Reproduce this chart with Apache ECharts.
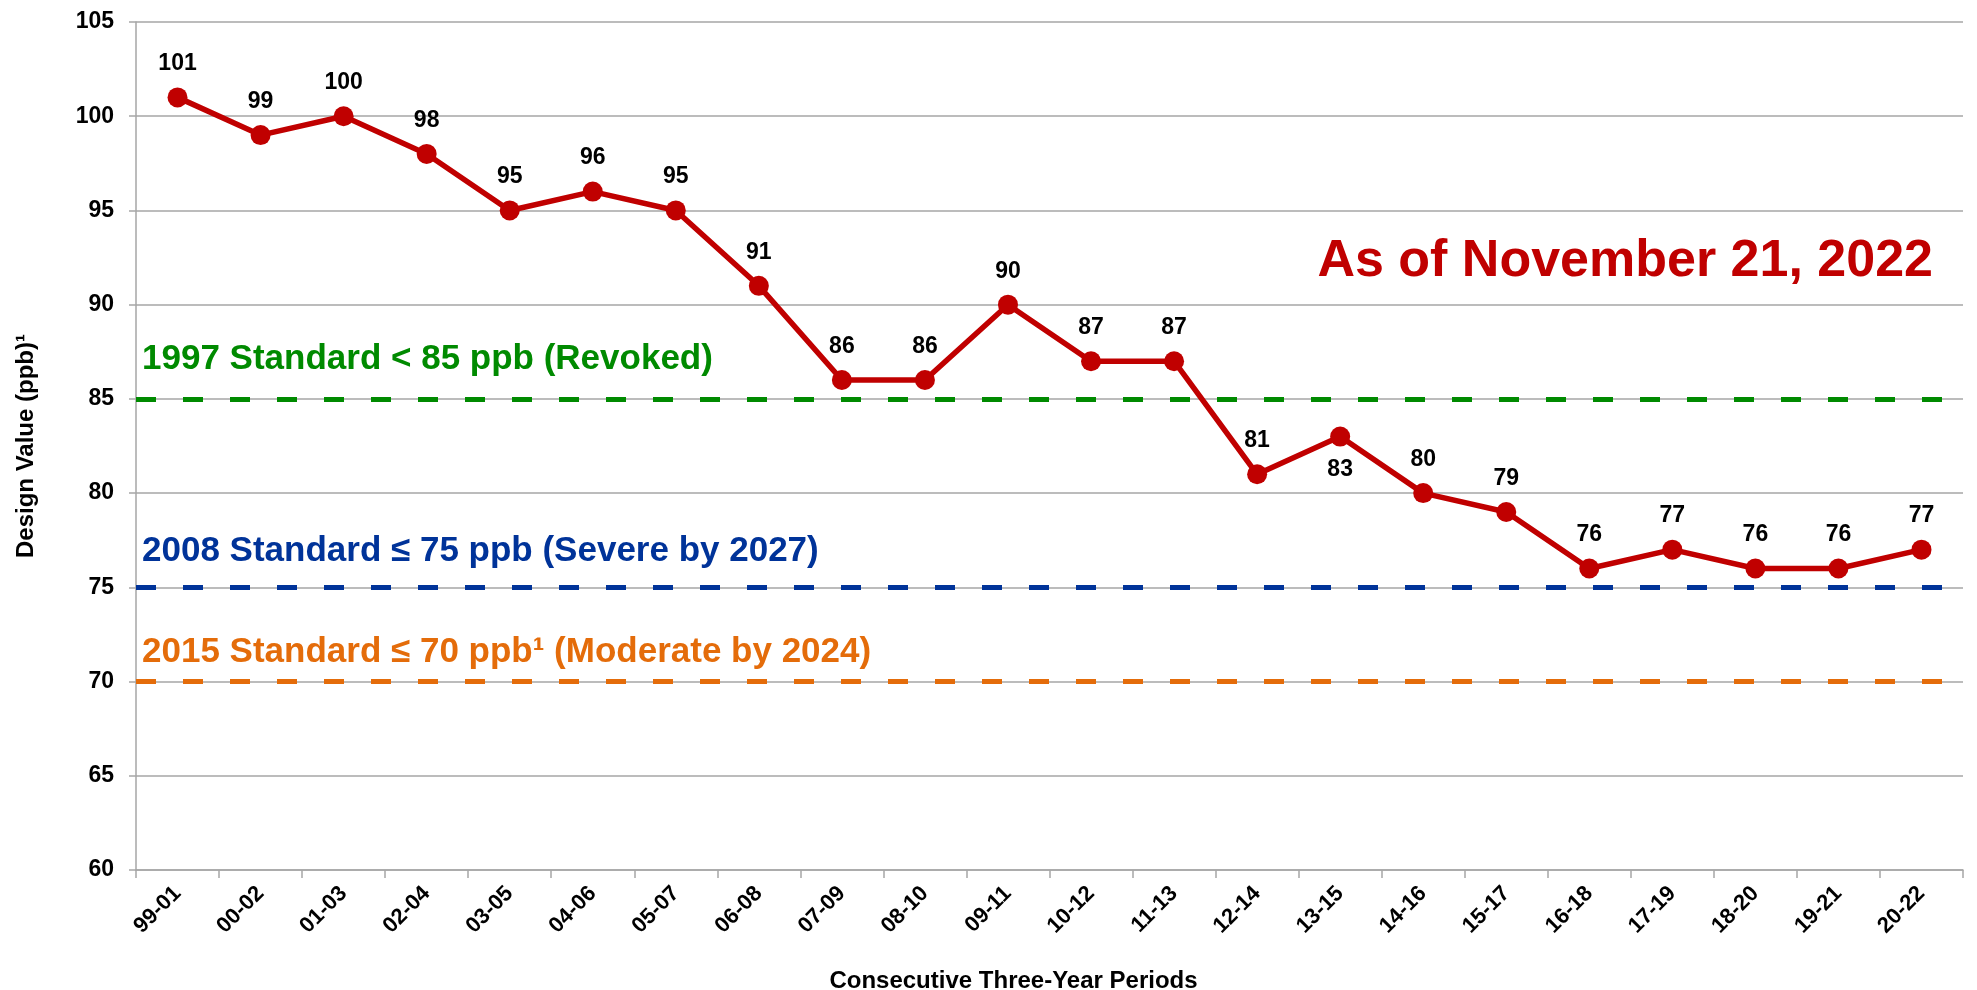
<!DOCTYPE html>
<html>
<head>
<meta charset="utf-8">
<script src="https://cdn.jsdelivr.net/npm/echarts@6/dist/echarts.min.js"></script>
<style>
	html, body { margin: 0; padding: 0; background: #fff; }
	#chart { width: 1977px; height: 990px; }
</style>
</head>
<body>
<div id="chart"></div>
<script>
// three-year periods and their design values
var periods = [ '99-01', '00-02', '01-03', '02-04', '03-05', '04-06', '05-07',
	'06-08', '07-09', '08-10', '09-11', '10-12', '11-13', '12-14', '13-15',
	'14-16', '15-17', '16-18', '17-19', '18-20', '19-21', '20-22' ];
var designValues = [ 101, 99, 100, 98, 95, 96, 95, 91, 86, 86, 90, 87, 87, 81,
	83, 80, 79, 76, 77, 76, 76, 77 ];

// ozone standards
var standardValues = [ 85, 75, 70 ];
var standardLabels = [ '1997 Standard < 85 ppb (Revoked)',
	'2008 Standard \u2264 75 ppb (Severe by 2027)',
	'2015 Standard \u2264 70 ppb\u00b9 (Moderate by 2024)' ];

var yTicks = [ 60, 65, 70, 75, 80, 85, 90, 95, 100, 105 ];

var font = "'Liberation Sans', Arial, sans-serif";
var red = '#c00000';
var standardColors = [ '#008a00', '#003399', '#e46c0a' ];
var standardLabelGap = [ 22, 18, 12 ];
var gridGrey = '#a6a6a6';

var chart = echarts.init(document.getElementById('chart'));

var standardSeries = standardValues.map(function(v, i) {
	return {
		type : 'line',
		data : [],
		silent : true,
		markLine : {
			silent : true,
			symbol : 'none',
			animation : false,
			lineStyle : {
				color : standardColors[i],
				width : 5,
				type : [ 20, 27 ]
			},
			label : {
				position : 'insideStartTop',
				distance : [ 6, standardLabelGap[i] ],
				color : standardColors[i],
				fontFamily : font,
				fontWeight : 'bold',
				fontSize : 35,
				formatter : standardLabels[i]
			},
			data : [ {
				yAxis : v
			} ]
		}
	};
});

var lineData = designValues.map(function(v, i) {
	// the 13-15 label sits under its point
	if (periods[i] === '13-15') {
		return {
			value : v,
			label : {
				position : 'bottom'
			}
		};
	}
	return v;
});

var option = {
	animation : false,
	textStyle : {
		fontFamily : font
	},
	title : {
		text : 'As of November 21, 2022',
		right : 39,
		top : 231,
		textStyle : {
			color : red,
			fontFamily : font,
			fontWeight : 'bold',
			fontSize : 52
		}
	},
	grid : {
		left : 136,
		right : 14,
		top : 22,
		bottom : 120,
		outerBoundsMode : 'none'
	},
	xAxis : {
		type : 'category',
		data : periods,
		boundaryGap : true,
		name : 'Consecutive Three-Year Periods',
		nameLocation : 'middle',
		nameGap : 99,
		nameTextStyle : {
			color : '#000',
			fontFamily : font,
			fontWeight : 'bold',
			fontSize : 24,
			padding : [ 0, 72, 0, 0 ]
		},
		axisLine : {
			lineStyle : {
				color : gridGrey,
				width : 1.5
			}
		},
		axisTick : {
			show : true,
			length : 8,
			lineStyle : {
				color : gridGrey,
				width : 1.5
			}
		},
		axisLabel : {
			rotate : 45,
			margin : 20,
			color : '#000',
			fontFamily : font,
			fontWeight : 'bold',
			fontSize : 22,
			interval : 0
		}
	},
	yAxis : {
		type : 'value',
		min : yTicks[0],
		max : yTicks[yTicks.length - 1],
		interval : 5,
		name : 'Design Value (ppb)\u00b9',
		nameLocation : 'middle',
		nameRotate : 90,
		nameGap : 98,
		nameTextStyle : {
			color : '#000',
			fontFamily : font,
			fontWeight : 'bold',
			fontSize : 24
		},
		axisLine : {
			show : true,
			lineStyle : {
				color : gridGrey,
				width : 1.5
			}
		},
		axisTick : {
			show : true,
			length : 7,
			lineStyle : {
				color : gridGrey,
				width : 1.5
			}
		},
		axisLabel : {
			margin : 22,
			color : '#000',
			fontFamily : font,
			fontWeight : 'bold',
			fontSize : 23
		},
		splitLine : {
			show : true,
			lineStyle : {
				color : gridGrey,
				width : 1.5
			}
		}
	},
	series : standardSeries.concat([ {
		name : 'Design Value',
		type : 'line',
		data : lineData,
		z : 5,
		symbol : 'circle',
		symbolSize : 20,
		lineStyle : {
			color : red,
			width : 5.5
		},
		itemStyle : {
			color : red
		},
		label : {
			show : true,
			position : 'top',
			distance : 12,
			color : '#000',
			fontFamily : font,
			fontWeight : 'bold',
			fontSize : 23
		}
	} ])
};

chart.setOption(option);
</script>
</body>
</html>
